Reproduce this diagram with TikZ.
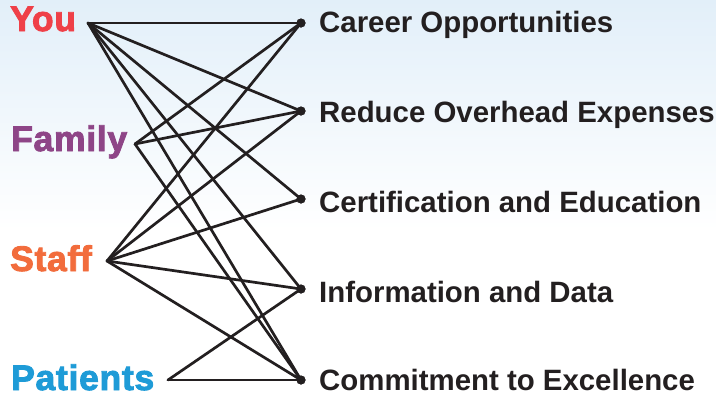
\documentclass[tikz,border=0pt]{standalone}
\usepackage{fontspec}
\setmainfont{Liberation Sans}[BoldFont={Liberation Sans Bold}]
\newfontfamily\heavyfont{Liberation Sans Bold}[BoldFont={Liberation Sans Bold},BoldFeatures={FakeBold=2.5},LetterSpace=2]
\definecolor{youred}{RGB}{239,64,72}
\definecolor{fampurple}{RGB}{142,69,135}
\definecolor{stafforange}{RGB}{242,108,60}
\definecolor{patblue}{RGB}{30,155,215}
\definecolor{txtdark}{RGB}{35,31,32}
\definecolor{bgblue}{RGB}{226,239,249}
\begin{document}
\begin{tikzpicture}[x=1pt,y=-1pt,
  leftlbl/.style={anchor=base west,inner sep=0pt,font=\heavyfont\bfseries\fontsize{35.5}{40}\selectfont},
  rightlbl/.style={anchor=base west,inner sep=0pt,text=txtdark,font=\bfseries\fontsize{29.4}{34}\selectfont},
  dotnode/.style={circle,fill=txtdark,inner sep=0pt,minimum size=9pt},
  link/.style={draw=txtdark,line width=2.7pt,line cap=round}]
\useasboundingbox (0,0) rectangle (716,394);
\shade[top color=bgblue,bottom color=white] (0,0) rectangle (716,230);
\fill[white] (0,229.5) rectangle (716,394);
% left labels
\node[leftlbl,text=youred] (you) at (10,31) {You};
\node[leftlbl,text=fampurple] (family) at (11,151) {Family};
\node[leftlbl,text=stafforange] (staff) at (10,271) {Staff};
\node[leftlbl,text=patblue] (patients) at (11,390) {Patients};
% start points
\coordinate (ys) at (88,23);
\coordinate (fs) at (135,144);
\coordinate (ss) at (107,261);
\coordinate (ps) at (168,380);
% dots
\node[dotnode] (d1) at (301,23) {};
\node[dotnode] (d2) at (301,111) {};
\node[dotnode] (d3) at (301,199) {};
\node[dotnode] (d4) at (301,289) {};
\node[dotnode] (d5) at (301,380) {};
% right labels
\node[rightlbl] (career) at (319,32) {Career Opportunities};
\node[rightlbl] (reduce) at (319,122) {Reduce Overhead Expenses};
\node[rightlbl] (cert) at (319,212) {Certification and Education};
\node[rightlbl] (info) at (319,302) {Information and Data};
\node[rightlbl] (commit) at (319,390) {Commitment to Excellence};
% links
\foreach \d in {d1,d2,d3,d4,d5} \draw[link] (ys) -- (\d.center);
\foreach \d in {d1,d2,d5} \draw[link] (fs) -- (\d.center);
\foreach \d in {d1,d2,d3,d4,d5} \draw[link] (ss) -- (\d.center);
\foreach \d in {d4,d5} \draw[link] (ps) -- (\d.center);
\foreach \d in {d1,d2,d3,d4,d5} \fill[txtdark] (\d) circle (4.5);
\end{tikzpicture}
\end{document}
